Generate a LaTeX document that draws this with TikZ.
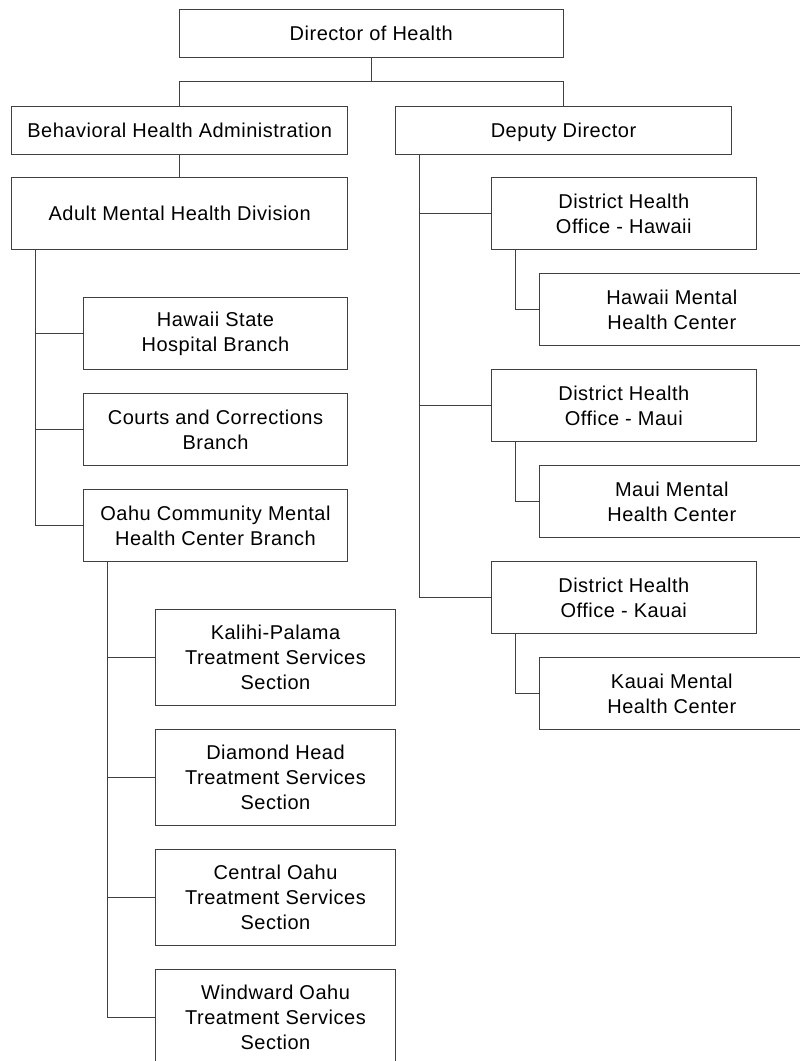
\documentclass[tikz,border=0pt]{standalone}
\usepackage{fontspec}
\setmainfont{Liberation Sans}[LetterSpace=2.5]
\usepackage{tikz}

\begin{document}
\begin{tikzpicture}
    [   x = 0.75pt, y = -0.75pt
    ,   unit/.style = {draw = black!75, line width = 0.75pt, rectangle,
            outer sep = 0pt, inner sep = 0pt, align = center,
            font = \fontsize{15}{18.75}\selectfont}
    ,   head/.style = {unit, minimum width = 288.4pt, minimum height = 36pt, text depth = 0pt}
    ,   office/.style = {unit, minimum width = 252pt, minimum height = 36pt, text depth = 0pt}
    ,   division/.style = {unit, minimum width = 252pt, minimum height = 54pt, text depth = 0pt}
    ,   branch/.style = {unit, minimum width = 198.3pt, minimum height = 54pt}
    ,   section/.style = {unit, minimum width = 180pt, minimum height = 72pt}
    ,   link/.style = {draw = black!75, line width = 0.75pt}
    ]
    \useasboundingbox (0,0) rectangle (800,1061);
    \clip (0,0) rectangle (800,1061);

    \node[head] (DH) at (371.3,33.5) {Director of Health};
    \node[office] (BHA) at (179.7,130) {Behavioral Health Administration};
    \node[office] (DD) at (563.5,130) {Deputy Director};

    \node[division] (AMHD) at (179.7,213.7) {Adult Mental Health Division};
    \node[branch] (HSH) at (215.5,333.7) {Hawaii State\\Hospital Branch};
    \node[branch] (CCB) at (215.5,429.7) {Courts and Corrections\\Branch};
    \node[branch] (OCB) at (215.5,525.7) {Oahu Community Mental\\Health Center Branch};

    \node[section] (KP) at (275.5,657.7) {Kalihi-Palama\\Treatment Services\\Section};
    \node[section] (DHT) at (275.5,777.7) {Diamond Head\\Treatment Services\\Section};
    \node[section] (CO) at (275.5,897.7) {Central Oahu\\Treatment Services\\Section};
    \node[section] (WO) at (275.5,1017.7) {Windward Oahu\\Treatment Services\\Section};

    \node[branch] (DHOH) at (623.8,213.7) {District Health\\Office - Hawaii};
    \node[branch] (HMHC) at (671.8,309.7) {Hawaii Mental\\Health Center};
    \node[branch] (DHOM) at (623.8,405.7) {District Health\\Office - Maui};
    \node[branch] (MMHC) at (671.8,501.7) {Maui Mental\\Health Center};
    \node[branch] (DHOK) at (623.8,597.7) {District Health\\Office - Kauai};
    \node[branch] (KMHC) at (671.8,693.7) {Kauai Mental\\Health Center};

    \draw[link] (DH.south) -- ++(0,24) coordinate (bus);
    \draw[link] (BHA.north) |- (bus) -| (DD.north);
    \draw[link] (BHA) -- (AMHD);

    \draw[link] (AMHD.south west) ++(24,0) |- (HSH.west);
    \draw[link] (AMHD.south west) ++(24,0) |- (CCB.west);
    \draw[link] (AMHD.south west) ++(24,0) |- (OCB.west);

    \draw[link] (OCB.south west) ++(24,0) |- (KP.west);
    \draw[link] (OCB.south west) ++(24,0) |- (DHT.west);
    \draw[link] (OCB.south west) ++(24,0) |- (CO.west);
    \draw[link] (OCB.south west) ++(24,0) |- (WO.west);

    \draw[link] (DD.south west) ++(24,0) |- (DHOH.west);
    \draw[link] (DD.south west) ++(24,0) |- (DHOM.west);
    \draw[link] (DD.south west) ++(24,0) |- (DHOK.west);

    \draw[link] (DHOH.south west) ++(24,0) |- (HMHC.west);
    \draw[link] (DHOM.south west) ++(24,0) |- (MMHC.west);
    \draw[link] (DHOK.south west) ++(24,0) |- (KMHC.west);
\end{tikzpicture}
\end{document}
